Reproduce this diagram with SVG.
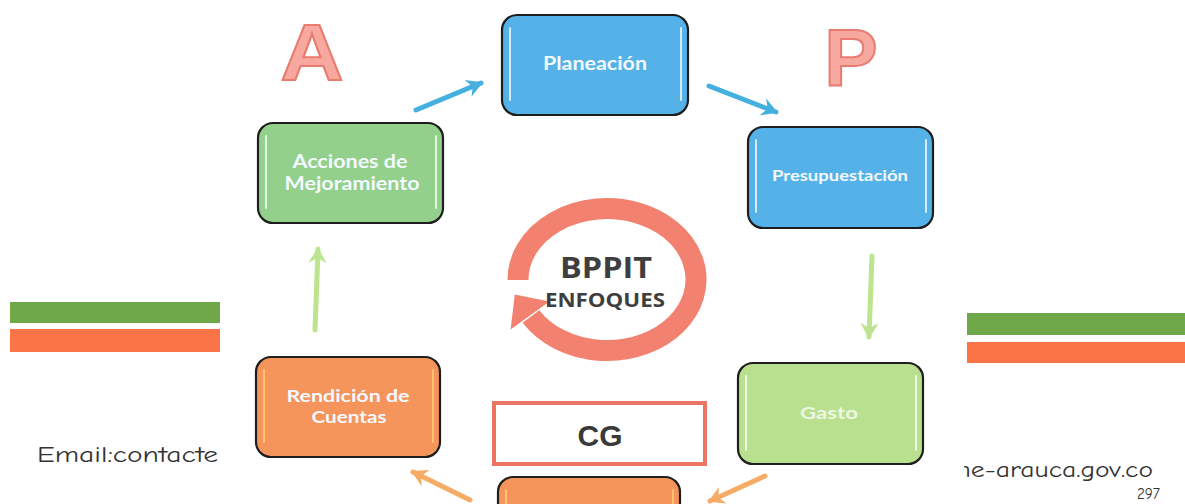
<svg xmlns="http://www.w3.org/2000/svg" width="1185" height="504" viewBox="0 0 1185 504">
<style>
.box{stroke:#1e1e1e;stroke-width:2.2}
.blue{fill:#55b2e8}
.green{fill:#92d08c}
.lgreen{fill:#b8e08f}
.orange{fill:#f5955c}
.hl{stroke:#ffffff;stroke-width:2;stroke-opacity:0.75;fill:none;stroke-linecap:round}
.lbl{font-family:Lato,"Open Sans",sans-serif;font-weight:bold;fill:#f4f9ff;text-anchor:middle}
.big{font-family:"Liberation Sans",Arial,sans-serif;font-weight:bold;font-size:80px;fill:#f7a9a0;stroke:#e97b70;stroke-width:2;text-anchor:middle}
.foot{font-family:"Comic Neue","DejaVu Sans",sans-serif;fill:#333333}
.con{fill:none;stroke-width:5;stroke-linecap:round}
</style>
<defs>
<marker id="mb" markerUnits="userSpaceOnUse" markerWidth="22" markerHeight="22" refX="16" refY="11" orient="auto"><path d="M2,2 L18,11 L2,20 L7,11 Z" fill="#45b0e0"/></marker>
<marker id="mg" markerUnits="userSpaceOnUse" markerWidth="22" markerHeight="22" refX="16" refY="11" orient="auto"><path d="M2,2 L18,11 L2,20 L7,11 Z" fill="#bde48f"/></marker>
<marker id="mo" markerUnits="userSpaceOnUse" markerWidth="22" markerHeight="22" refX="16" refY="11" orient="auto"><path d="M2,2 L18,11 L2,20 L7,11 Z" fill="#f6ab66"/></marker>
<clipPath id="clipweb"><rect x="964" y="440" width="221" height="64"/></clipPath>
</defs>

<!-- decorative bars -->
<rect x="10" y="302" width="210" height="21" fill="#6ea848"/>
<rect x="10" y="329" width="210" height="23" fill="#fb7448"/>
<rect x="967" y="313" width="218" height="22" fill="#6ea848"/>
<rect x="967" y="342" width="218" height="21" fill="#fb7448"/>

<!-- footer text -->
<text class="foot" x="37" y="462" font-size="22" textLength="181" lengthAdjust="spacingAndGlyphs">Email:contacte</text>
<text class="foot" x="948" y="477" font-size="22" clip-path="url(#clipweb)" textLength="205" lengthAdjust="spacingAndGlyphs">me-arauca.gov.co</text>
<text class="foot" x="1137" y="499" font-size="15">297</text>

<!-- big letters -->
<text class="big" x="312" y="80" textLength="63" lengthAdjust="spacingAndGlyphs">A</text>
<text class="big" x="851" y="85">P</text>

<!-- connectors -->
<g id="connectors">
<path class="con" d="M416,110 L481,83" stroke="#45b0e0" marker-end="url(#mb)"/>
<path class="con" d="M709,86 L776,112" stroke="#45b0e0" marker-end="url(#mb)"/>
<path class="con" d="M872,256 L869,337" stroke="#bde48f" marker-end="url(#mg)"/>
<path class="con" d="M765,476 L710,501" stroke="#f6ab66" marker-end="url(#mo)"/>
<path class="con" d="M470,500 L413,472" stroke="#f6ab66" marker-end="url(#mo)"/>
<path class="con" d="M315,330 L318,249" stroke="#bde48f" marker-end="url(#mg)"/>
</g>

<!-- cycle ring -->
<g id="cycle">
<path d="M518,280 A89,71 0 1 1 531,316.5" fill="none" stroke="#f2826f" stroke-width="21"/>
<polygon points="549.4,301.4 510.6,329.6 514.8,294.4" fill="#f2826f"/>
<text x="606" y="278" font-family="'Open Sans',sans-serif" font-weight="bold" font-size="28" fill="#3e3e3e" text-anchor="middle" textLength="92" lengthAdjust="spacingAndGlyphs">BPPIT</text>
<text x="605" y="307" font-family="'Open Sans',sans-serif" font-weight="bold" font-size="20" fill="#3e3e3e" text-anchor="middle" textLength="120" lengthAdjust="spacingAndGlyphs">ENFOQUES</text>
</g>

<g id="planeacion">
<rect class="box blue" x="502" y="15" width="186" height="100" rx="15"/>
<path class="hl" d="M510,28 V100 M681,28 V100"/>
<text class="lbl" x="595" y="70" font-size="18" textLength="104" lengthAdjust="spacingAndGlyphs">Planeación</text>
</g>

<g id="presupuestacion">
<rect class="box blue" x="748" y="127" width="185" height="101" rx="15"/>
<path class="hl" d="M756,140 V212 M926,140 V212"/>
<text class="lbl" x="840" y="181" font-size="16" textLength="136" lengthAdjust="spacingAndGlyphs">Presupuestación</text>
</g>

<g id="gasto">
<rect class="box lgreen" x="738" y="363" width="185" height="101" rx="15"/>
<path class="hl" d="M746,376 V450 M916,376 V450"/>
<text class="lbl" x="829" y="419" font-size="17" style="fill:#eef7e4" textLength="58" lengthAdjust="spacingAndGlyphs">Gasto</text>
</g>

<g id="acciones">
<rect class="box green" x="258" y="123" width="185" height="100" rx="15"/>
<path class="hl" d="M266,136 V208 M436,136 V208"/>
<text class="lbl" x="350" y="168" font-size="19" textLength="115" lengthAdjust="spacingAndGlyphs">Acciones de</text>
<text class="lbl" x="352" y="190" font-size="19" textLength="135" lengthAdjust="spacingAndGlyphs">Mejoramiento</text>
</g>

<g id="rendicion">
<rect class="box orange" x="256" y="357" width="184" height="100" rx="15"/>
<path class="hl" d="M264,370 V442 M433,370 V442" style="stroke:#ffd27a"/>
<text class="lbl" x="348" y="402" font-size="17" textLength="123" lengthAdjust="spacingAndGlyphs">Rendición de</text>
<text class="lbl" x="349" y="423" font-size="17" textLength="75" lengthAdjust="spacingAndGlyphs">Cuentas</text>
</g>

<g id="cg">
<rect x="494" y="403" width="211" height="61" fill="#ffffff" stroke="#ea7565" stroke-width="4"/>
<text x="600" y="446" font-family="'Liberation Sans',Arial,sans-serif" font-weight="bold" font-size="30" fill="#3a3a3a" text-anchor="middle">CG</text>
</g>

<g id="bottom-node">
<rect class="box orange" x="498" y="477" width="182" height="60" rx="15"/>
<path class="hl" d="M506,490 V510 M673,490 V510" style="stroke:#ffd27a"/>
</g>
</svg>
